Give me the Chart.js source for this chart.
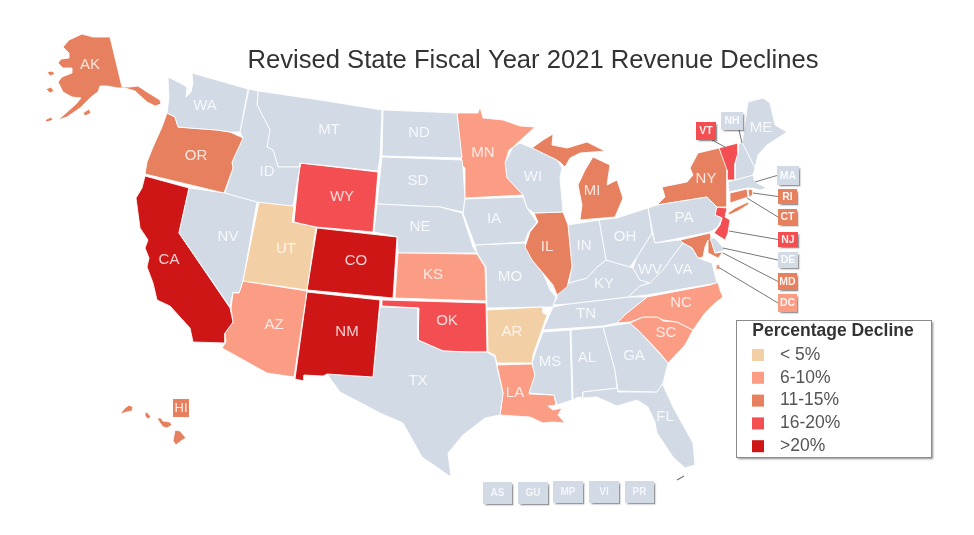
<!DOCTYPE html>
<html>
<head>
<meta charset="utf-8">
<style>
  html, body { margin: 0; padding: 0; background: #fff; }
  canvas { display: block; filter: blur(0.5px); }
</style>
<script src="https://cdn.jsdelivr.net/npm/chart.js@4"></script>
</head>
<body>
<canvas id="map" width="974" height="535"></canvas>
<script>
const bandNames = ["< 5%", "6-10%", "11-15%", "16-20%", ">20%"];
const bandColors = ["#F3CFA6", "#FB9C85", "#E6805E", "#F34F52", "#CE1616"];
const noDataColor = "#D2DAE6";

const under5 = ["UT", "AR"];
const from6to10 = ["AZ", "KS", "MN", "LA", "NC", "SC", "DC"];
const from11to15 = ["AK", "OR", "NY", "MI", "IL", "MD", "CT", "RI", "HI"];
const from16to20 = ["WY", "OK", "VT", "NJ"];
const over20 = ["CA", "CO", "NM"];

// state outlines, in map units
const AK = [[69,40],[82,34],[93,37],[110,37],[122,87],[130,87],[138,86],[147,92],[160,100],[161,104],[155,106],[147,102],[135,91],[125,88],[118,88],[107,86],[100,86],[98,92],[95,94],[90,98],[80,108],[67,117],[58,120],[66,113],[76,104],[81,98],[72,97],[63,92],[58,82],[62,77],[72,73],[72,68],[63,68],[58,63],[61,59],[69,58],[69,53],[63,47]];
const AK2 = [[47,72],[52,71],[55,74],[50,76]];
const AK3 = [[46,89],[51,87],[54,91],[50,93]];
const AK4 = [[83,113],[89,109],[91,113],[85,116]];
const AK5 = [[45,120],[51,117],[53,120],[47,122]];
const WA = [[168,77],[178,82],[187,87],[186,97],[191,92],[193,83],[192,73],[248,89],[240,132],[230,132],[217,130],[190,128],[178,127],[175,117],[167,113],[169,98]];
const OR = [[167,113],[175,117],[178,127],[190,128],[217,130],[230,132],[243,138],[232,162],[233,168],[224,193],[145,174],[147,162],[153,147],[162,127]];
const ID = [[249,89],[258,91],[257,105],[270,130],[267,147],[273,150],[278,167],[300,167],[293,206],[257,202],[225,193],[233,168],[232,162],[243,138],[240,132]];
const MT = [[258,91],[320,100],[382,110],[380,157],[378,171],[300,163],[300,167],[278,167],[273,150],[267,147],[270,130],[257,105]];
const WY = [[300,163],[378,172],[373,232],[316,227],[294,222]];
const UT = [[259,202],[294,206],[292,222],[316,227],[307,290],[243,281]];
const NV = [[189,188],[225,193],[257,202],[243,281],[239,293],[233,292],[230,307],[179,233]];
const CA = [[145,176],[189,188],[179,233],[230,308],[233,322],[225,333],[225,343],[193,342],[190,328],[180,317],[170,306],[157,300],[153,283],[147,267],[149,258],[145,248],[148,240],[140,228],[138,213],[136,198],[142,188]];
const AZ = [[243,281],[307,291],[294,377],[267,373],[222,348],[226,342],[225,333],[233,322],[231,308],[233,293],[239,293]];
const CO = [[317,228],[397,237],[393,298],[307,290]];
const NM = [[307,292],[380,300],[373,377],[327,374],[323,376],[304,375],[304,381],[295,379]];
const TX = [[380,307],[418,308],[418,340],[443,351],[467,352],[487,352],[495,357],[497,367],[503,393],[500,415],[485,418],[463,435],[448,453],[451,477],[422,457],[403,423],[380,413],[365,405],[340,392],[327,374],[373,377]];
const OK = [[382,300],[486,303],[487,352],[467,352],[443,351],[418,340],[419,308],[382,306]];
const KS = [[398,253],[477,254],[485,267],[486,301],[395,298]];
const NE = [[377,204],[440,207],[462,213],[473,247],[477,253],[398,253],[397,237],[374,232]];
const SD = [[382,157],[462,160],[463,168],[465,198],[463,212],[440,207],[377,204]];
const ND = [[383,110],[457,113],[462,158],[382,156]];
const MN = [[457,113],[478,113],[480,107],[483,118],[503,120],[520,126],[535,127],[513,147],[509,150],[505,163],[507,178],[523,195],[465,198],[465,168],[462,166]];
const IA = [[465,199],[523,197],[527,208],[537,222],[528,233],[525,242],[475,245],[463,213]];
const WI = [[513,147],[520,143],[532,148],[557,160],[562,168],[560,178],[563,212],[534,213],[527,208],[523,195],[507,178],[505,163]];
const MI = [[532,148],[543,140],[553,134],[552,145],[567,148],[587,142],[605,151],[580,153],[570,158],[565,167],[560,162]];
const MI2 = [[593,157],[610,165],[607,185],[617,180],[623,198],[615,217],[580,220],[582,205],[578,185],[585,170]];
const IL = [[534,213],[563,212],[568,225],[572,267],[567,287],[557,295],[553,285],[543,273],[532,260],[525,247],[530,232],[538,222]];
const IN = [[568,225],[599,220],[606,260],[597,267],[587,278],[569,283],[572,267]];
const OH = [[599,220],[617,218],[648,208],[652,233],[637,257],[630,267],[606,260]];
const WV = [[652,233],[655,243],[680,240],[683,243],[675,253],[663,270],[650,283],[640,280],[633,268],[637,257]];
const VA = [[683,243],[692,248],[698,258],[712,263],[717,283],[647,295],[628,297],[640,286],[650,283],[663,270],[675,253]];
const KY = [[569,283],[587,278],[597,267],[606,260],[630,267],[633,268],[640,280],[650,283],[640,286],[628,297],[568,304],[553,305],[557,298],[557,295]];
const TN = [[568,304],[553,307],[543,330],[603,326],[617,323],[627,313],[647,297],[628,297]];
const NC = [[710,285],[718,282],[720,290],[723,297],[715,303],[705,313],[693,330],[677,322],[663,320],[657,317],[643,317],[630,322],[617,323],[627,313],[647,297]];
const SC = [[630,323],[643,317],[658,317],[663,321],[677,322],[693,330],[685,345],[668,363],[660,353],[640,332]];
const GA = [[603,327],[630,323],[640,332],[660,354],[668,363],[663,383],[657,392],[618,391],[615,370]];
const FL = [[583,392],[618,388],[618,392],[657,392],[658,385],[663,385],[673,407],[693,443],[695,465],[685,468],[673,457],[657,433],[655,422],[648,407],[637,400],[617,406],[597,397],[583,398]];
const AL = [[571,330],[603,327],[615,370],[617,388],[583,392],[583,398],[578,397],[573,400]];
const MS = [[543,332],[570,330],[572,400],[557,405],[554,395],[529,393],[535,375],[532,363],[537,348]];
const LA = [[497,365],[532,364],[535,375],[529,394],[554,395],[556,405],[548,406],[553,410],[562,408],[558,415],[565,423],[553,422],[543,423],[530,417],[500,415],[503,393]];
const AR = [[487,310],[543,307],[543,313],[547,315],[533,355],[532,363],[497,363],[495,355],[488,352]];
const MO = [[475,245],[525,243],[532,260],[543,273],[550,290],[556,297],[553,307],[543,307],[487,308],[486,267],[477,253]];
const PA = [[648,208],[657,205],[707,197],[717,207],[715,215],[722,218],[718,227],[710,232],[655,243]];
const NY = [[657,205],[665,197],[662,187],[687,182],[693,175],[690,168],[698,153],[719,148],[727,170],[727,207],[717,207],[707,197]];
const NY2 = [[728,213],[735,208],[748,202],[749,204],[738,211],[729,215]];
const VT = [[719,148],[738,143],[738,153],[735,163],[735,180],[727,180],[724,165]];
const NH = [[738,145],[742,142],[755,168],[753,175],[735,180],[735,163],[738,153]];
const ME = [[742,143],[748,102],[763,98],[770,103],[775,125],[787,132],[767,145],[758,155],[755,168]];
const MA = [[728,182],[753,175],[755,182],[767,188],[760,190],[752,188],[747,188],[729,192]];
const CT = [[730,193],[747,189],[748,197],[730,203]];
const RI = [[748,189],[753,190],[753,195],[749,197]];
const NJ = [[716,207],[727,208],[725,217],[730,220],[728,233],[725,240],[714,233],[720,225],[722,218],[715,215]];
const DE = [[710,238],[715,238],[725,250],[715,253]];
const MD = [[667,245],[672,242],[710,233],[715,253],[723,252],[718,258],[708,253],[708,240],[705,247],[703,257],[698,258],[692,248],[683,243],[675,242],[670,246]];
const DC = [[716,265],[720,264],[720,269],[716,270]];
const HI = [[120,414],[125,408],[129,405],[133,407],[132,411],[127,412]];
const HI2 = [[145,412],[148,413],[151,417],[148,419],[145,416]];
const HI3 = [[157,418],[161,418],[163,421],[170,422],[172,425],[167,428],[163,427],[160,423]];
const HI4 = [[175,430],[180,431],[186,438],[181,441],[176,445],[173,441]];

const stateShapes = [
  ["AK", AK], ["AK", AK2], ["AK", AK3], ["AK", AK4], ["AK", AK5],
  ["WA", WA], ["OR", OR], ["ID", ID], ["MT", MT], ["WY", WY], ["UT", UT], ["NV", NV], ["CA", CA],
  ["AZ", AZ], ["CO", CO], ["NM", NM], ["TX", TX], ["OK", OK], ["KS", KS], ["NE", NE], ["SD", SD],
  ["ND", ND], ["MN", MN], ["IA", IA], ["WI", WI], ["MI", MI], ["MI", MI2], ["IL", IL], ["IN", IN],
  ["OH", OH], ["WV", WV], ["VA", VA], ["KY", KY], ["TN", TN], ["NC", NC], ["SC", SC], ["GA", GA],
  ["FL", FL], ["AL", AL], ["MS", MS], ["LA", LA], ["AR", AR], ["MO", MO], ["PA", PA], ["NY", NY],
  ["NY", NY2], ["VT", VT], ["NH", NH], ["ME", ME], ["MA", MA], ["CT", CT], ["RI", RI], ["NJ", NJ],
  ["DE", DE], ["MD", MD], ["DC", DC], ["HI", HI], ["HI", HI2], ["HI", HI3], ["HI", HI4]
];

// where the state codes sit, map units
const stateLabels = [
  ["AK",90,65],["WA",205,106],["MT",329,130],["ID",267,172],["OR",196,156],["CA",169,260],["NV",228,237],
  ["UT",286,249],["WY",342,197],["CO",356,261],["NM",347,332],["AZ",274,325],["ND",419,133],["SD",418,181],
  ["NE",420,227],["KS",433,275],["OK",447,321],["TX",418,381],["MN",483,153],["IA",494,219],["MO",510,277],
  ["AR",512,332],["LA",515,393],["WI",533,177],["IL",547,247],["MI",592,191],["IN",584,246],["OH",625,237],
  ["KY",604,284],["TN",586,314],["MS",550,362],["AL",587,358],["GA",634,356],["FL",665,417],["SC",666,333],
  ["NC",681,303],["VA",683,270],["WV",650,270],["PA",684,218],["NY",706,179],["ME",761,128]
];

// small states boxed off the coast: code, box x, y, w, h, leader end x, y
const calloutBoxes = [
  ["VT",696,122,20,18,725,147],["NH",721,112,22,18,742,143],["MA",777,166,22,19,755,182],
  ["RI",778,189,19,15,753,193],["CT",778,209,19,16,747,198],["NJ",778,232,20,15,729,231],
  ["DE",778,252,20,16,723,248],["MD",778,273,19,17,723,253],["DC",778,294,19,18,718,267]
];
const hawaiiBox = ["HI",173,399,16,18];
const territoryBoxes = [["AS",483,482,29,22],["GU",518,482,30,22],["MP",553,481,30,22],["VI",589,481,30,22],["PR",625,481,29,22]];

function stateColor(code) {
  const bands = [under5, from6to10, from11to15, from16to20, over20];
  const i = bands.findIndex(b => b.includes(code));
  return i < 0 ? noDataColor : bandColors[i];
}

const datasets = stateShapes.map(([code, pts]) => ({
  label: code,
  data: pts.concat([pts[0]]).map(p => ({ x: p[0], y: p[1] })),
  showLine: true,
  fill: "shape",
  backgroundColor: stateColor(code),
  borderColor: "rgba(255,255,255,0.85)",
  borderWidth: 1,
  pointRadius: 0,
  tension: 0,
  clip: false
}));
datasets.push({
  label: "keys",
  data: [{ x: 677, y: 480 }, { x: 684, y: 476 }],
  showLine: true,
  borderColor: "#777",
  borderWidth: 1.2,
  pointRadius: 0,
  clip: false
});

const mapExtras = {
  id: "mapExtras",
  afterLayout(chart) {
    // title takes layout room but the map (Alaska) runs up past it
    chart.chartArea = { left: 0, top: 0, right: chart.width, bottom: chart.height, width: chart.width, height: chart.height };
  },
  afterDatasetsDraw(chart) {
    const { ctx, scales: { x, y } } = chart;
    ctx.save();
    ctx.textAlign = "center";
    ctx.textBaseline = "middle";

    ctx.font = "15px 'Liberation Sans'";
    ctx.fillStyle = "rgba(255,255,255,0.8)";
    stateLabels.forEach(([code, lx, ly]) => ctx.fillText(code, x.getPixelForValue(lx), y.getPixelForValue(ly)));

    calloutBoxes.forEach(([code, bx, by, bw, bh, ex, ey]) => {
      const side = bx > ex;
      const px = x.getPixelForValue(bx), py = y.getPixelForValue(by);
      ctx.strokeStyle = "#777";
      ctx.lineWidth = 1;
      ctx.beginPath();
      ctx.moveTo(side ? px : px + bw - 4, side ? py + bh / 2 : py + bh);
      ctx.lineTo(x.getPixelForValue(ex), y.getPixelForValue(ey));
      ctx.stroke();
      drawBox(ctx, px, py, bw, bh, stateColor(code), code, "bold 10.5px 'Liberation Sans'", "rgba(255,255,255,0.9)");
    });

    const [hc, hx, hy, hw, hh] = hawaiiBox;
    ctx.fillStyle = stateColor(hc);
    ctx.fillRect(x.getPixelForValue(hx), y.getPixelForValue(hy), hw, hh);
    ctx.font = "13px 'Liberation Sans'";
    ctx.fillStyle = "rgba(255,255,255,0.85)";
    ctx.fillText(hc, x.getPixelForValue(hx) + hw / 2, y.getPixelForValue(hy) + hh / 2);

    territoryBoxes.forEach(([code, bx, by, bw, bh]) => {
      drawBox(ctx, x.getPixelForValue(bx), y.getPixelForValue(by), bw, bh, noDataColor, code, "bold 10px 'Liberation Sans'", "rgba(255,255,255,0.75)");
    });
    ctx.restore();
  },
  afterDraw(chart) {
    const { ctx } = chart;
    ctx.save();
    ctx.shadowColor = "rgba(0,0,0,0.45)";
    ctx.shadowOffsetX = 1.5;
    ctx.shadowOffsetY = 1.5;
    ctx.shadowBlur = 2;
    ctx.fillStyle = "#fff";
    ctx.fillRect(736.5, 320.5, 195, 137);
    ctx.shadowColor = "transparent";
    ctx.strokeStyle = "#8a8a8a";
    ctx.lineWidth = 1;
    ctx.strokeRect(736.5, 320.5, 195, 137);

    ctx.textBaseline = "middle";
    ctx.textAlign = "center";
    ctx.font = "bold 17.5px 'Liberation Sans'";
    ctx.fillStyle = "#333";
    ctx.fillText("Percentage Decline", 833, 331);

    ctx.textAlign = "left";
    ctx.font = "17.5px 'Liberation Sans'";
    bandNames.forEach((name, i) => {
      const rowY = 355 + i * 22.8;
      ctx.fillStyle = bandColors[i];
      ctx.fillRect(752, rowY - 6, 12, 12);
      ctx.fillStyle = "#555";
      ctx.fillText(name, 780, rowY);
    });
    ctx.restore();
  }
};

function drawBox(ctx, px, py, w, h, color, text, font, textColor) {
  ctx.save();
  ctx.shadowColor = "rgba(0,0,0,0.4)";
  ctx.shadowOffsetX = 1.5;
  ctx.shadowOffsetY = 1.5;
  ctx.shadowBlur = 1.5;
  ctx.fillStyle = color;
  ctx.fillRect(px, py, w, h);
  ctx.restore();
  ctx.font = font;
  ctx.fillStyle = textColor;
  ctx.fillText(text, px + w / 2, py + h / 2 + 0.5);
}

new Chart(document.getElementById("map").getContext("2d"), {
  type: "scatter",
  data: { datasets },
  options: {
    responsive: false,
    animation: false,
    layout: { padding: { left: 92, right: 0, top: 0, bottom: 0 } },
    scales: {
      x: { type: "linear", min: 92, max: 974, display: false },
      y: { type: "linear", min: 76, max: 535, reverse: true, display: false }
    },
    plugins: {
      legend: { display: false },
      tooltip: { enabled: false },
      title: {
        display: true,
        text: "Revised State Fiscal Year 2021 Revenue Declines",
        color: "#333",
        font: { family: "'Liberation Sans'", size: 25.6, weight: "normal", lineHeight: "30px" },
        padding: { top: 46, bottom: 0 }
      }
    }
  },
  plugins: [mapExtras]
});
</script>
</body>
</html>
